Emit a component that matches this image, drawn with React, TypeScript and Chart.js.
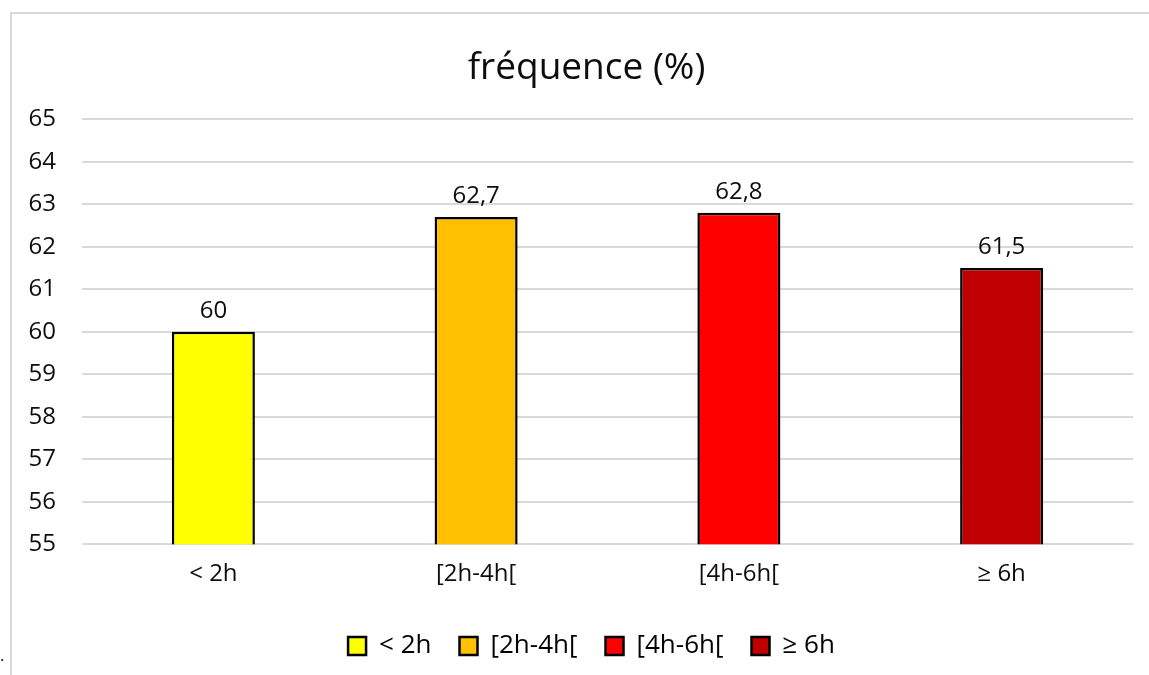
import React, { useEffect, useRef } from "react";
import { Chart, registerables } from "chart.js";

Chart.register(...registerables);

const categories = ["< 2h", "[2h-4h[", "[4h-6h[", "≥ 6h"];
const values = [60, 62.7, 62.8, 61.5];
const colors = ["#FFFF00", "#FFC000", "#FF0000", "#C00000"];
const yMin = 55;
const yMax = 65;
const titleText = "fréquence (%)";

const FONT = "'Open Sans', sans-serif";
const TEXT = "#0d0d0d";

const fmt = (v: number) => String(v).replace(".", ",");

const dataLabels = {
  id: "dataLabels",
  afterDatasetsDraw(chart: any) {
    const ctx = chart.ctx;
    const meta = chart.getDatasetMeta(0);
    ctx.save();
    ctx.font = `24px ${FONT}`;
    ctx.fillStyle = TEXT;
    ctx.textAlign = "center";
    ctx.textBaseline = "alphabetic";
    meta.data.forEach((bar: any, i: number) => {
      ctx.fillText(fmt(values[i]), bar.x, bar.y - 14);
    });
    ctx.restore();
  },
};

// centre the title and legend the way the reference does (slightly right of the canvas centre)
const shiftBlocks = {
  id: "shiftBlocks",
  afterLayout(chart: any) {
    const t = chart.titleBlock;
    if (t) {
      t.left += 20;
      t.right += 20;
    }
    const l = chart.legend;
    if (l) {
      l.left += 25;
      l.right += 25;
    }
  },
};

export default function App() {
  const ref = useRef<HTMLCanvasElement | null>(null);

  useEffect(() => {
    if (!ref.current) return;
    const chart = new Chart(ref.current, {
      type: "bar",
      data: {
        labels: categories,
        datasets: [
          {
            data: values,
            backgroundColor: colors,
            borderColor: "#000000",
            borderWidth: 2.5,
            barPercentage: 0.316,
            categoryPercentage: 1,
          },
        ],
      },
      options: {
        animation: false,
        responsive: false,
        layout: { padding: { left: 0, right: 16, top: 0, bottom: 6 } },
        plugins: {
          tooltip: { enabled: false },
          title: {
            display: true,
            text: titleText,
            color: TEXT,
            font: { family: FONT, size: 37, weight: "normal" },
            padding: { top: 46, bottom: 29 },
          },
          legend: {
            display: true,
            position: "bottom",
            onClick: () => {},
            labels: {
              boxWidth: 18,
              boxHeight: 18,
              padding: 28,
              color: TEXT,
              font: { family: FONT, size: 26 },
              generateLabels: () =>
                categories.map((c, i) => ({
                  text: c,
                  fillStyle: colors[i],
                  strokeStyle: "#000000",
                  lineWidth: 2.5,
                  hidden: false,
                  index: i,
                  datasetIndex: 0,
                })),
            },
          },
        },
        scales: {
          x: {
            grid: { display: false, drawTicks: false },
            border: { display: false },
            ticks: {
              color: TEXT,
              font: { family: FONT, size: 24 },
              padding: 16,
            },
          },
          y: {
            min: yMin,
            max: yMax,
            afterFit: (scale: any) => {
              scale.width = 82;
            },
            grid: { color: "#D9D9D9", lineWidth: 2, drawTicks: false },
            border: { display: false },
            ticks: {
              stepSize: 1,
              color: TEXT,
              font: { family: FONT, size: 24 },
              padding: 26,
            },
          },
        },
      },
      plugins: [dataLabels, shiftBlocks],
    });
    return () => chart.destroy();
  }, []);

  return (
    <div
      style={{
        position: "fixed",
        left: 0,
        top: 0,
        width: 1149,
        height: 675,
        background: "#ffffff",
        overflow: "hidden",
      }}
    >
      <div
        style={{
          position: "absolute",
          left: 10,
          top: 12,
          width: 1200,
          height: 700,
          borderLeft: "2px solid #D9D9D9",
          borderTop: "2px solid #D9D9D9",
        }}
      />
      <span
        style={{
          position: "absolute",
          left: 0,
          top: 644,
          fontFamily: FONT,
          fontSize: 16,
          color: "#000",
        }}
      >
        .
      </span>
      <canvas
        ref={ref}
        width={1149}
        height={675}
        style={{ position: "absolute", left: 0, top: 0, display: "block" }}
      />
    </div>
  );
}
